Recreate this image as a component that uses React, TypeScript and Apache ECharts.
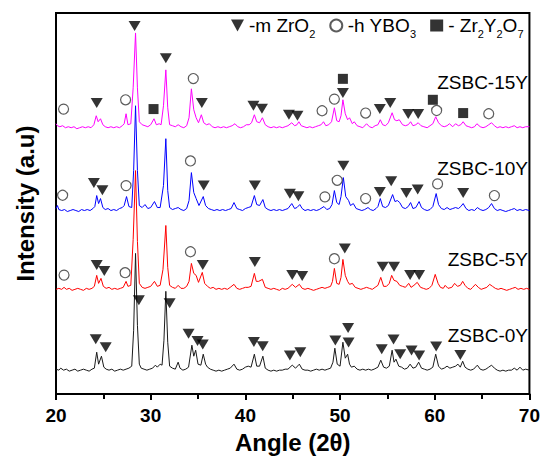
import React, { useEffect, useRef } from 'react';
import * as echarts from 'echarts';

const FONT = '"Liberation Sans", Arial, Helvetica, sans-serif';

// sample names, bottom to top
const SAMPLES = ['ZSBC-0Y', 'ZSBC-5Y', 'ZSBC-10Y', 'ZSBC-15Y'];
const COLORS = ['#1a1a1a', '#ff0000', '#0000ff', '#ff00ff'];
// vertical stacking offsets (a.u.)
const OFFSETS = [24, 105, 184, 267];
const LABEL_Y = [335, 259, 168, 82];

// [2theta, intensity above own baseline]
const PATTERN_0Y: number[][] = [
  [20.0, 1], [20.3, 0], [20.5, 2], [20.8, 0], [21.1, 1], [21.4, -1], [21.7, 0], [22.0, 1], [22.3, -1], [22.6, 0],
  [22.9, 1], [23.2, 0], [23.5, -1], [23.8, 1], [24.05, 2], [24.3, 18], [24.5, 6], [24.8, 14], [25.05, 3], [25.3, 1],
  [25.6, 0], [25.9, 1], [26.2, -1], [26.5, 0], [26.8, 1], [27.1, 0], [27.4, 1], [27.7, 2], [28.0, 4], [28.2, 40],
  [28.4, 117], [28.6, 45], [28.8, 6], [29.0, 2], [29.3, 1], [29.6, 0], [29.9, 1], [30.2, 2], [30.5, 5], [30.7, 3],
  [31.0, 6], [31.2, 5], [31.4, 30], [31.6, 79], [31.8, 28], [32.0, 4], [32.3, 2], [32.6, 1], [32.9, 8], [33.1, 2],
  [33.4, 0], [33.7, 1], [34.0, 3], [34.35, 25], [34.55, 14], [34.75, 20], [35.0, 6], [35.3, 5], [35.55, 16], [35.8, 6],
  [36.0, 3], [36.3, 1], [36.6, 0], [36.9, -1], [37.2, 0], [37.5, -1], [37.8, 0], [38.1, 1], [38.4, 2], [38.8, 6],
  [39.1, 1], [39.4, 0], [39.7, 1], [40.0, 3], [40.3, 4], [40.6, 3], [40.95, 16], [41.2, 4], [41.5, 4], [41.85, 14],
  [42.1, 2], [42.4, 0], [42.7, -1], [43.0, 0], [43.3, -1], [43.6, 0], [43.9, 0], [44.2, 1], [44.5, 1], [44.95, 5],
  [45.3, 2], [45.7, 6], [46.0, 1], [46.3, 0], [46.6, 0], [46.9, -1], [47.2, 0], [47.5, 1], [47.8, 0], [48.1, 1],
  [48.4, 0], [48.7, 1], [49.0, 2], [49.25, 8], [49.45, 22], [49.7, 6], [50.0, 4], [50.3, 28], [50.55, 12], [50.8, 16],
  [51.0, 6], [51.2, 3], [51.5, 4], [51.8, 1], [52.1, 0], [52.4, 1], [52.7, 0], [53.0, 1], [53.3, 0], [53.6, 1],
  [54.0, 3], [54.3, 10], [54.6, 3], [54.9, 2], [55.2, 4], [55.5, 20], [55.7, 8], [55.9, 11], [56.2, 4], [56.5, 3],
  [56.8, 1], [57.1, 2], [57.4, 6], [57.7, 2], [58.0, 3], [58.3, 8], [58.6, 2], [58.9, 1], [59.2, 0], [59.5, 1],
  [59.8, 3], [60.1, 16], [60.4, 4], [60.7, 1], [61.0, 2], [61.3, 4], [61.6, 2], [61.9, 3], [62.2, 4], [62.45, 6],
  [62.7, 3], [62.95, 9], [63.2, 3], [63.5, 1], [63.8, 0], [64.1, 1], [64.5, 5], [64.8, 1], [65.1, 0], [65.4, 1],
  [65.7, 3], [66.0, 5], [66.3, 2], [66.6, 0], [66.9, -1], [67.2, 0], [67.5, -1], [67.8, 0], [68.1, 0], [68.4, 2],
  [68.7, 0], [69.0, 3], [69.3, 0], [69.6, 1], [70.0, 0],
];

const PATTERN_5Y: number[][] = [
  [20.0, 0], [20.3, 1], [20.6, 0], [20.85, 2], [21.1, 0], [21.4, 1], [21.7, -1], [22.0, 0], [22.3, 1], [22.6, 0],
  [22.9, -1], [23.2, 1], [23.5, 0], [23.8, 1], [24.05, 3], [24.3, 14], [24.5, 6], [24.75, 11], [25.0, 3], [25.3, 1],
  [25.6, 2], [25.9, 0], [26.2, 1], [26.5, 0], [26.8, 1], [27.1, 2], [27.4, 8], [27.6, 3], [27.9, 4], [28.15, 50],
  [28.4, 119], [28.6, 48], [28.8, 6], [29.1, 2], [29.4, 1], [29.7, 2], [30.0, 3], [30.4, 8], [30.7, 3], [31.0, 4],
  [31.3, 20], [31.6, 64], [31.8, 22], [32.0, 4], [32.3, 2], [32.6, 1], [32.9, 4], [33.2, 1], [33.5, 1], [33.8, 3],
  [34.05, 8], [34.3, 26], [34.55, 16], [34.8, 14], [35.05, 7], [35.45, 17], [35.7, 6], [36.0, 3], [36.3, 1], [36.6, 2],
  [36.9, 0], [37.2, 1], [37.5, 0], [37.8, 1], [38.1, 0], [38.4, 2], [38.8, 5], [39.1, 1], [39.4, 0], [39.7, 1],
  [40.0, 2], [40.3, 2], [40.6, 3], [40.95, 16], [41.15, 8], [41.4, 8], [41.8, 10], [42.1, 2], [42.4, 1], [42.7, 0],
  [43.0, 1], [43.3, 0], [43.6, -1], [43.9, 1], [44.2, 0], [44.5, 1], [44.95, 5], [45.3, 2], [45.7, 5], [46.0, 1],
  [46.3, 0], [46.6, 1], [46.9, 0], [47.2, -1], [47.5, 0], [47.8, 1], [48.1, 2], [48.4, 1], [48.7, 2], [49.0, 3],
  [49.2, 8], [49.4, 21], [49.65, 6], [49.9, 5], [50.1, 12], [50.3, 30], [50.55, 14], [50.8, 8], [51.0, 5], [51.3, 6],
  [51.6, 2], [51.9, 1], [52.2, 0], [52.5, 1], [52.8, 2], [53.1, 1], [53.4, 0], [53.7, 2], [54.0, 4], [54.3, 12],
  [54.6, 3], [54.9, 3], [55.2, 6], [55.45, 14], [55.7, 9], [56.0, 8], [56.3, 4], [56.6, 3], [56.9, 2], [57.25, 6],
  [57.5, 2], [57.8, 4], [58.15, 7], [58.5, 2], [58.8, 1], [59.1, 0], [59.4, 1], [59.7, 4], [60.05, 15], [60.35, 6],
  [60.6, 2], [60.9, 1], [61.1, 4], [61.4, 1], [61.8, 2], [62.1, 6], [62.4, 3], [62.7, 4], [62.95, 8], [63.2, 4],
  [63.5, 1], [63.8, 0], [64.0, 2], [64.3, 5], [64.6, 2], [64.9, 0], [65.2, 1], [65.5, 2], [65.8, 5], [66.1, 3],
  [66.4, 1], [66.7, 0], [67.0, 1], [67.3, 0], [67.6, -1], [67.9, 0], [68.2, 1], [68.5, 2], [68.8, 0], [69.1, 1],
  [69.4, 0], [69.7, 1], [70.0, 0],
];

const PATTERN_10Y: number[][] = [
  [20.0, 2], [20.15, 5], [20.3, 1], [20.6, 0], [20.9, 1], [21.2, -1], [21.5, 0], [21.8, 1], [22.1, 0], [22.4, -1],
  [22.7, 1], [23.0, 0], [23.3, 1], [23.6, 0], [23.9, 2], [24.1, 4], [24.3, 15], [24.5, 7], [24.7, 12], [24.95, 3],
  [25.2, 1], [25.5, 2], [25.8, 0], [26.1, 1], [26.4, 0], [26.7, 2], [27.0, 3], [27.2, 5], [27.45, 14], [27.7, 4],
  [28.0, 3], [28.2, 40], [28.4, 105], [28.6, 40], [28.8, 5], [29.1, 3], [29.4, 6], [29.7, 2], [30.0, 3], [30.4, 9],
  [30.7, 3], [31.0, 3], [31.35, 25], [31.6, 72], [31.8, 20], [32.0, 3], [32.3, 1], [32.6, 2], [32.9, 3], [33.2, 1],
  [33.5, 0], [33.8, 2], [34.05, 10], [34.3, 38], [34.55, 18], [34.8, 12], [35.1, 5], [35.55, 14], [35.8, 5], [36.1, 2],
  [36.4, 1], [36.7, 0], [37.0, 1], [37.3, 0], [37.6, 1], [37.9, 0], [38.2, 1], [38.5, 2], [38.8, 8], [39.1, 2],
  [39.4, 1], [39.7, 0], [40.0, 2], [40.3, 3], [40.6, 4], [40.95, 15], [41.2, 6], [41.5, 5], [41.85, 11], [42.1, 3],
  [42.4, 1], [42.7, 0], [43.0, 1], [43.3, 0], [43.6, 1], [43.9, 0], [44.2, 1], [44.5, 2], [44.9, 7], [45.2, 2],
  [45.45, 3], [45.75, 6], [46.0, 2], [46.3, 0], [46.6, 1], [46.9, 0], [47.2, 1], [47.5, 0], [47.8, 1], [48.3, 4],
  [48.6, 1], [48.9, 2], [49.15, 6], [49.4, 20], [49.65, 8], [49.9, 6], [50.1, 14], [50.35, 33], [50.6, 14], [50.9, 10],
  [51.1, 5], [51.4, 7], [51.7, 2], [52.0, 1], [52.3, 0], [52.6, 1], [52.95, 3], [53.2, 1], [53.5, 0], [53.8, 2],
  [54.0, 4], [54.25, 12], [54.5, 4], [54.8, 3], [55.1, 5], [55.55, 16], [55.8, 9], [56.05, 10], [56.3, 8], [56.6, 3],
  [56.9, 2], [57.2, 4], [57.45, 8], [57.7, 2], [58.0, 3], [58.35, 9], [58.6, 3], [58.9, 1], [59.2, 0], [59.5, 1],
  [59.8, 4], [60.15, 17], [60.4, 6], [60.7, 2], [61.0, 1], [61.3, 3], [61.6, 1], [61.9, 2], [62.2, 3], [62.5, 2],
  [62.75, 4], [63.0, 7], [63.3, 2], [63.6, 0], [63.9, 1], [64.2, 0], [64.5, 3], [64.8, 1], [65.1, 0], [65.4, 1],
  [65.7, 3], [66.0, 7], [66.3, 2], [66.6, 0], [66.9, 1], [67.2, 0], [67.5, -1], [67.8, 0], [68.1, 1], [68.4, 2],
  [68.7, 0], [69.0, 1], [69.3, 0], [69.6, 1], [70.0, 0],
];

const PATTERN_15Y: number[][] = [
  [20.0, 4], [20.15, 2], [20.4, 1], [20.7, 2], [21.0, 0], [21.3, 1], [21.6, 0], [21.9, 1], [22.2, -1], [22.5, 0],
  [22.8, 1], [23.1, 0], [23.4, 1], [23.7, 0], [24.0, 3], [24.25, 12], [24.45, 6], [24.7, 9], [24.95, 3], [25.2, 1],
  [25.5, 0], [25.8, 1], [26.1, 0], [26.4, 1], [26.7, 0], [27.0, 2], [27.2, 4], [27.4, 14], [27.6, 3], [27.9, 4],
  [28.15, 40], [28.4, 95], [28.6, 40], [28.8, 6], [29.1, 3], [29.4, 2], [29.7, 1], [30.0, 3], [30.35, 9], [30.6, 3],
  [30.9, 4], [31.1, 3], [31.35, 22], [31.6, 58], [31.8, 20], [32.0, 3], [32.3, 2], [32.6, 1], [32.9, 3], [33.2, 1],
  [33.5, 0], [33.8, 2], [34.05, 10], [34.3, 39], [34.55, 18], [34.8, 10], [35.05, 5], [35.35, 13], [35.6, 5], [35.9, 3],
  [36.2, 4], [36.5, 1], [36.8, 0], [37.1, 1], [37.4, 0], [37.7, 1], [38.0, 0], [38.3, 1], [38.6, 2], [38.9, 4],
  [39.2, 1], [39.5, 0], [39.8, 1], [40.1, 3], [40.4, 3], [40.65, 5], [40.95, 13], [41.2, 6], [41.5, 5], [41.8, 10],
  [42.1, 3], [42.4, 1], [42.7, 0], [43.0, 1], [43.3, 0], [43.6, 1], [43.9, 0], [44.2, 1], [44.5, 2], [44.9, 5],
  [45.2, 2], [45.45, 3], [45.65, 6], [45.9, 2], [46.2, 1], [46.5, 0], [46.8, 1], [47.1, 0], [47.4, 1], [47.7, 2],
  [48.0, 3], [48.25, 6], [48.5, 2], [48.8, 3], [49.1, 6], [49.4, 20], [49.65, 7], [49.9, 6], [50.1, 12], [50.3, 28],
  [50.55, 14], [50.8, 8], [51.0, 10], [51.3, 4], [51.5, 6], [51.8, 2], [52.1, 1], [52.4, 0], [52.8, 4], [53.1, 1],
  [53.4, 0], [53.7, 2], [54.0, 3], [54.25, 8], [54.5, 3], [54.8, 2], [55.1, 5], [55.5, 15], [55.75, 8], [56.0, 7],
  [56.25, 8], [56.6, 3], [56.9, 2], [57.2, 3], [57.45, 6], [57.7, 2], [58.0, 3], [58.25, 5], [58.55, 2], [58.85, 1],
  [59.2, 0], [59.5, 2], [59.8, 4], [60.1, 11], [60.4, 5], [60.7, 2], [61.0, 1], [61.3, 2], [61.55, 4], [61.9, 1],
  [62.2, 4], [62.5, 2], [62.75, 3], [63.0, 6], [63.3, 2], [63.6, 1], [63.9, 0], [64.2, 1], [64.45, 4], [64.8, 1],
  [65.1, 0], [65.4, 1], [65.7, 3], [66.0, 5], [66.3, 2], [66.6, 0], [66.9, 1], [67.2, 0], [67.5, 1], [67.8, 0],
  [68.1, 1], [68.4, 2], [68.7, 0], [69.0, 1], [69.3, 0], [69.6, 1], [70.0, 1],
];

const PATTERNS = [PATTERN_0Y, PATTERN_5Y, PATTERN_10Y, PATTERN_15Y];

// phase markers: [2theta, height on the stacked scale]
const M_ZRO2_MARKS: number[][] = [
  // ZSBC-15Y
  [24.3, 291.7], [28.3, 369], [31.6, 336.7], [35.4, 291.7], [40.85, 289], [41.75, 286], [44.6, 280], [45.5, 279],
  [50.3, 301.7], [54.2, 285.7], [55.3, 291.7], [57.2, 280.7], [58.25, 280.7],
  // ZSBC-10Y
  [24.0, 211.7], [24.9, 204.3], [35.6, 209], [41.0, 209], [44.7, 200.7], [45.6, 198.3], [50.35, 229], [54.2, 202.7],
  [55.4, 213.3], [57.0, 201.7], [58.2, 205], [63.0, 201.7],
  // ZSBC-5Y
  [24.3, 129.3], [25.1, 123.3], [35.5, 129.3], [41.0, 132.3], [44.95, 119.3], [46.0, 118.3], [50.5, 146],
  [54.5, 127.7], [55.7, 127.7], [57.4, 119.3], [58.35, 119.3],
  // ZSBC-0Y
  [24.2, 55], [25.25, 47], [28.75, 94], [32.0, 91], [34.0, 60.5], [34.95, 53.3], [35.5, 49.7], [40.9, 52.2],
  [41.83, 48], [44.7, 38.7], [45.8, 42], [49.5, 53.7], [50.85, 66.3], [50.9, 51.7], [54.4, 45], [55.65, 54.7],
  [56.35, 40], [57.55, 43.8], [58.35, 38.7], [60.15, 47.7], [62.7, 39.2],
];

const H_YBO3_MARKS: number[][] = [
  [20.8, 285.7], [27.35, 295], [34.5, 316.3], [48.1, 284], [49.4, 295.7], [52.7, 281.7], [60.2, 284.3], [65.7, 281],
  [20.7, 199.3], [27.4, 209], [34.2, 233.7], [48.4, 197.7], [49.7, 214.3], [52.7, 196], [60.3, 210.7], [66.3, 199],
  [20.85, 119.3], [27.3, 121.7], [34.2, 142.7], [49.4, 135.7],
];

const ZR2Y2O7_MARKS: number[][] = [
  [30.3, 285.7], [50.3, 316], [59.8, 295], [63.0, 281.7],
];

const PHASES = ['m ZrO2', 'h YBO3', 'Zr2Y2O7'];
const PHASE_LEGEND: Record<string, string> = {
  'm ZrO2': '-m ZrO{sub|2}',
  'h YBO3': '-h YBO{sub|3}',
  'Zr2Y2O7': '- Zr{sub|2}Y{sub|2}O{sub|7}',
};

const TRIANGLE = 'path://M0,0L12,0L6,10Z';

export default function App() {
  const ref = useRef<HTMLDivElement>(null);
  useEffect(() => {
    if (!ref.current) return;
    const chart = echarts.init(ref.current, undefined, { renderer: 'svg' });
    const lineSeries = PATTERNS.map((p, i) => ({
      type: 'line',
      name: SAMPLES[i],
      data: p.map(([a, v]) => [a, v + OFFSETS[i]]),
      showSymbol: false,
      symbol: 'none',
      lineStyle: { color: COLORS[i], width: 1 },
      itemStyle: { color: COLORS[i] },
      silent: true,
      z: 2,
    }));
    chart.setOption({
      animation: false,
      backgroundColor: '#fff',
      grid: { left: 56, right: 11, top: 13, bottom: 64, show: true, borderColor: '#000', borderWidth: 2 },
      legend: {
        left: 231,
        top: 16,
        padding: 0,
        itemWidth: 13,
        itemHeight: 12,
        itemGap: 14,
        selectedMode: false,
        data: [
          { name: PHASES[0], icon: 'path://M0,0L13,0L6.5,12Z' },
          { name: PHASES[1], icon: 'circle' },
          { name: PHASES[2], icon: 'rect' },
        ],
        formatter: (n: string) => PHASE_LEGEND[n],
        textStyle: {
          fontFamily: FONT,
          fontSize: 19,
          color: '#000',
          rich: { sub: { fontFamily: FONT, fontSize: 11, color: '#000', padding: [17, 0, 0, 0] } },
        },
      },
      xAxis: {
        type: 'value',
        min: 20,
        max: 70,
        interval: 10,
        name: 'Angle (2θ)',
        nameLocation: 'middle',
        nameGap: 34,
        nameTextStyle: { fontFamily: FONT, fontSize: 24, fontWeight: 'bold', color: '#000' },
        axisLine: { show: true, lineStyle: { color: '#000', width: 2 } },
        axisTick: { show: true, inside: false, length: 6, lineStyle: { color: '#000', width: 2 } },
        minorTick: { show: true, splitNumber: 2, length: 5, lineStyle: { color: '#000', width: 2 } },
        axisLabel: { fontFamily: FONT, fontSize: 19, fontWeight: 'bold', color: '#000', margin: 12 },
        splitLine: { show: false },
        minorSplitLine: { show: false },
      },
      yAxis: {
        type: 'value',
        min: 0,
        max: 382,
        name: 'Intensity (a.u)',
        nameLocation: 'middle',
        nameGap: 19,
        nameTextStyle: { fontFamily: FONT, fontSize: 24, fontWeight: 'bold', color: '#000' },
        axisLine: { show: true, lineStyle: { color: '#000', width: 2 } },
        axisTick: { show: false },
        axisLabel: { show: false },
        splitLine: { show: false },
      },
      series: [
        ...lineSeries,
        {
          type: 'scatter', name: PHASES[0], data: M_ZRO2_MARKS, symbol: TRIANGLE, symbolSize: [12, 10],
          itemStyle: { color: '#000' }, silent: true, z: 5,
        },
        {
          type: 'scatter', name: PHASES[1], data: H_YBO3_MARKS, symbol: 'circle', symbolSize: 10,
          itemStyle: { color: 'rgba(255,255,255,0)', borderColor: '#333', borderWidth: 1.2 }, silent: true, z: 5,
        },
        {
          type: 'scatter', name: PHASES[2], data: ZR2Y2O7_MARKS, symbol: 'rect', symbolSize: 10,
          itemStyle: { color: '#000' }, silent: true, z: 5,
        },
      ],
      graphic: SAMPLES.map((s, i) => ({
        type: 'text',
        x: 528,
        y: LABEL_Y[i],
        z: 10,
        style: { text: s, fontFamily: FONT, fontSize: 19, fill: '#000', textAlign: 'right', textVerticalAlign: 'middle' },
      })),
    });
    return () => chart.dispose();
  }, []);
  return (
    <div
      ref={ref}
      style={{ position: 'fixed', left: 0, top: 0, width: 543, height: 459, background: '#fff' }}
    />
  );
}
